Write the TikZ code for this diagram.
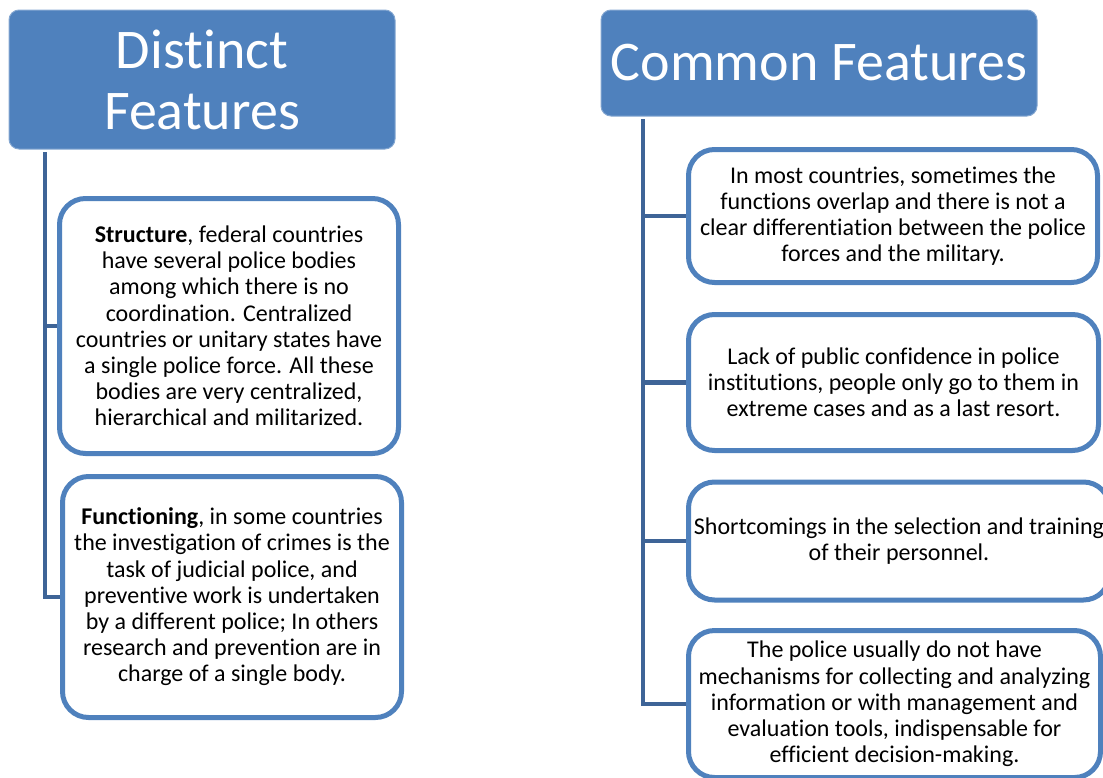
\documentclass[tikz,border=0pt]{standalone}
\usepackage{fontspec}
\setmainfont[Ligatures={NoCommon}]{Carlito}
\usepackage{tikz}
\usetikzlibrary{positioning}
\definecolor{hblue}{HTML}{4F81BD}
\definecolor{lblue}{HTML}{3E6497}
\tikzset{headbox/.style = {fill=hblue, draw=hblue!70!white, line width=1pt,
                           rounded corners=10pt, text=white, align=center,
                           inner sep=0pt,
                           font=\fontsize{56}{61}\selectfont}}
\tikzset{itembox/.style = {draw=hblue, line width=5pt, fill=white,
                           rounded corners=26pt, align=center, inner sep=0pt,
                           font=\fontsize{24}{26.2}\selectfont}}
\tikzset{trunk/.style = {draw=lblue, line width=4.5pt}}

\begin{document}
\begin{tikzpicture}[x=1pt, y=-1pt]
    \useasboundingbox (0,0) rectangle (1103,777);
    \clip (0,0) rectangle (1103,777);
    % headers
    \node [headbox, minimum width=386, minimum height=139] (distinct) at (202, 79.5)
      {Distinct\\Features};
    \node [headbox, minimum width=436, minimum height=106] (common) at (819, 63)
      {Common Features};
    % left column
    \node [itembox, minimum width=339, minimum height=255] (struct) at (229, 326)
      {\textbf{Structure}, federal countries\\
       have several police bodies\\
       among which there is no\\
       coordination. Centralized\\
       countries or unitary states have\\
       a single police force. All these\\
       bodies are very centralized,\\
       hierarchical and militarized.};
    \node [itembox, minimum width=339, minimum height=241] (func) at (232, 597)
      {\textbf{Functioning}, in some countries\\
       the investigation of crimes is the\\
       task of judicial police, and\\
       preventive work is undertaken\\
       by a different police; In others\\
       research and prevention are in\\
       charge of a single body.};
    % right column
    \node [itembox, minimum width=409, minimum height=133] (overlap) at (893, 216)
      {In most countries, sometimes the\\
       functions overlap and there is not a\\
       clear differentiation between the police\\
       forces and the military.};
    \node [itembox, minimum width=410, minimum height=136] (trust) at (893.5, 382.5)
      {Lack of public confidence in police\\
       institutions, people only go to them in\\
       extreme cases and as a last resort.};
    \node [itembox, minimum width=421, minimum height=118] (staff) at (899, 541)
      {Shortcomings in the selection and training\\
       of their personnel.};
    \node [itembox, minimum width=412, minimum height=147] (info) at (894.5, 704)
      {The police usually do not have\\
       mechanisms for collecting and analyzing\\
       information or with management and\\
       evaluation tools, indispensable for\\
       efficient decision-making.};
    % connectors
    \coordinate (lroot) at (45, 152);
    \coordinate (rroot) at (643, 119);
    \draw [trunk] (lroot) |- (struct.west);
    \draw [trunk] (lroot) |- (func.west);
    \foreach \b in {overlap, trust, staff, info} {
      \draw [trunk] (rroot) |- (\b.west);
    }
\end{tikzpicture}
\end{document}
